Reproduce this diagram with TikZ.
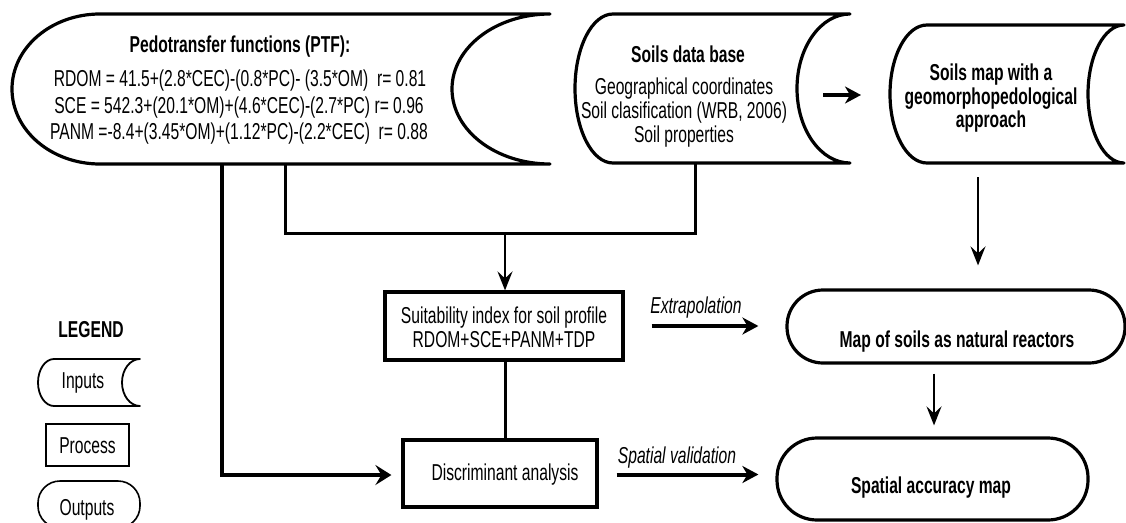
\documentclass[tikz,border=0pt]{standalone}
\usepackage{fontspec}
\setmainfont[FakeStretch=0.68]{Liberation Sans}
\usetikzlibrary{arrows.meta,calc}
\begin{document}
\begin{tikzpicture}[x=1pt,y=-1pt,
  shp/.style={line width=3.2pt, line join=round},
  lgshp/.style={line width=1.8pt, line join=round},
  conn/.style={line width=3pt, line join=miter},
  leftarr/.style={line width=3.2pt, line join=miter, -{Stealth[length=16pt,width=20pt,inset=6pt]}},
  thinarr/.style={line width=2.3pt, -{Stealth[length=19pt,width=15pt,inset=7pt]}},
  bigarr/.style={line width=4pt, -{Stealth[length=16pt,width=17pt,inset=5pt]}},
  txt/.style={anchor=base, inner sep=0pt, font=\fontsize{23}{26}\selectfont},
  btxt/.style={anchor=base, inner sep=0pt, font=\fontsize{23}{26}\selectfont\bfseries},
  itxt/.style={anchor=base, inner sep=0pt, font=\fontsize{23}{26}\selectfont\itshape},
  box/.style={draw, line width=3.2pt, inner sep=0pt},
  lgbox/.style={draw, line width=1.6pt, inner sep=0pt},
]
\fill[white] (0,0) rectangle (1126,522);
\useasboundingbox (0,0) rectangle (1126,522);

% ---- Inputs ----
\draw[shp] (100,14) -- (550,14) arc[start angle=270,end angle=90,x radius=98,y radius=75]
  -- (100,164) arc[start angle=90,end angle=270,x radius=88,y radius=75] -- cycle;
\draw[shp] (613,14) -- (850,14) arc[start angle=270,end angle=90,x radius=53,y radius=74.5]
  -- (613,163) arc[start angle=90,end angle=270,x radius=38,y radius=74.5] -- cycle;
\draw[shp] (927,25) -- (1124,25) arc[start angle=270,end angle=90,x radius=36,y radius=69]
  -- (927,163) arc[start angle=90,end angle=270,x radius=37,y radius=69] -- cycle;

\node[btxt] (ptft) at (240,52) {Pedotransfer functions (PTF):};
\node[txt] (eq1) at (240,86) {RDOM = 41.5+(2.8*CEC)-(0.8*PC)- (3.5*OM)\ \ r= 0.81};
\node[txt] (eq2) at (239,113) {SCE = 542.3+(20.1*OM)+(4.6*CEC)-(2.7*PC) r= 0.96};
\node[txt] (eq3) at (239,139) {PANM =-8.4+(3.45*OM)+(1.12*PC)-(2.2*CEC)\ \ r= 0.88};

\node[btxt] (dbt) at (688,62) {Soils data base};
\node[txt] (db1) at (684,94) {Geographical coordinates};
\node[txt] (db2) at (684,118) {Soil clasification (WRB, 2006)};
\node[txt] (db3) at (684,142) {Soil properties};

\node[btxt] (sm1) at (991,80) {Soils map with a};
\node[btxt] (sm2) at (991,104) {geomorphopedological};
\node[btxt] (sm3) at (991,127) {approach};

% ---- Processes and outputs ----
\node[box, minimum width=238pt, minimum height=68pt] (suit) at (504,326) {};
\node[txt] (suit1) at (504,323) {Suitability index for soil profile};
\node[txt] (suit2) at (504,347) {RDOM+SCE+PANM+TDP};

\node[box, minimum width=194pt, minimum height=67pt] (disc) at (500,473.5) {};
\node[txt] (disct) at (505,480) {Discriminant analysis};

\node[box, rounded corners=36pt, minimum width=338pt, minimum height=73pt] (map) at (956,326.5) {};
\node[btxt] (mapt) at (957,347) {Map of soils as natural reactors};

\node[box, rounded corners=40pt, minimum width=311pt, minimum height=82pt] (acc) at (932.5,479) {};
\node[btxt] (acct) at (931,493) {Spatial accuracy map};

% ---- connector points ----
\coordinate (ptfA) at (222,164);
\coordinate (ptfB) at (285,164);
\coordinate (dbS) at (695,163);
\coordinate (join) at (505,233);
\coordinate (dbE) at (823,95);
\coordinate (smW) at (861,95);
\coordinate (smS) at (978,163);

% ---- connectors ----
\draw[leftarr] (ptfA) |- ($(disc.west)+(-10,1.5)$);
\draw[conn] (ptfB) |- (join) -| (dbS);
\draw[thinarr] (join) -- (suit.north -| join);
\draw[conn] (suit.south -| join) -- (disc.north -| join);
\draw[bigarr] ($(suit.east)+(27,0)$) -- ($(suit.east -| map.west)+(-27,0)$);
\node[itxt] (lext) at (696,313) {Extrapolation};
\draw[bigarr] ($(disc.east)+(18,1)$) -- ($(disc.east -| acc.west)+(-17,1)$);
\node[itxt] (lsv) at (677,463) {Spatial validation};
\draw[bigarr] (dbE) -- (smW);
\draw[thinarr] ($(smS)+(0,14)$) -- ($(map.north -| smS)+(0,-23)$);
\draw[thinarr] ($(map.south -| acc.north)+(1.5,9)$) -- ($(acc.north)+(1.5,-11)$);

% ---- legend ----
\node[btxt] (leg) at (91,337) {LEGEND};
\draw[lgshp] (54,359) -- (140,359) arc[start angle=270,end angle=90,x radius=18,y radius=23.5]
  -- (54,406) arc[start angle=90,end angle=270,x radius=16,y radius=23.5] -- cycle;
\node[txt] (lgin) at (83,388) {Inputs};
\node[lgbox, minimum width=83pt, minimum height=42pt] (lgpr) at (87.5,445) {};
\node[txt] (lgprt) at (87.5,453) {Process};
\node[lgbox, rounded corners=22pt, minimum width=102pt, minimum height=47pt] (lgout) at (89,504.5) {};
\node[txt] (lgoutt) at (87,515) {Outputs};
\end{tikzpicture}
\end{document}
